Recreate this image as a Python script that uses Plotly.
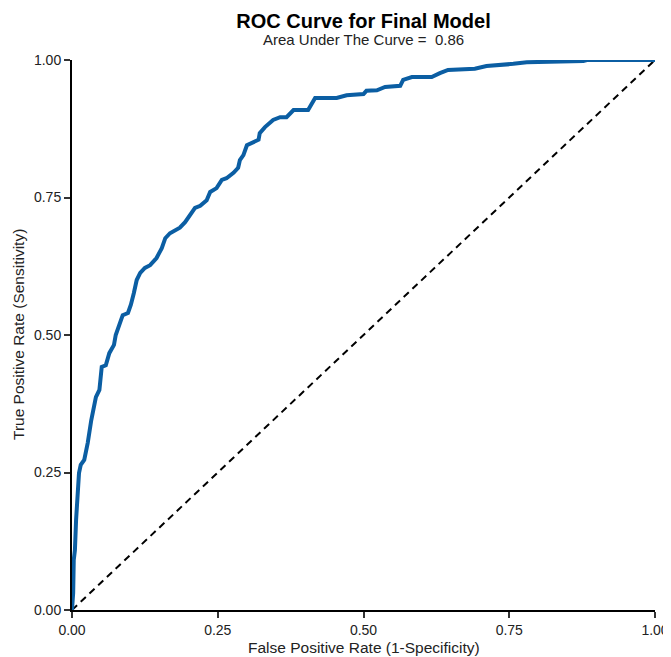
import plotly.graph_objects as go

fpr = [0.000, 0.002, 0.003, 0.005, 0.007, 0.010, 0.012, 0.015, 0.021, 0.027,
       0.033, 0.041, 0.047, 0.051, 0.058, 0.064, 0.072, 0.075, 0.084, 0.087,
       0.096, 0.101, 0.106, 0.111, 0.117, 0.125, 0.134, 0.145, 0.154, 0.160,
       0.168, 0.177, 0.185, 0.194, 0.202, 0.211, 0.220, 0.231, 0.237, 0.248,
       0.257, 0.265, 0.277, 0.285, 0.288, 0.294, 0.300, 0.308, 0.320, 0.322,
       0.331, 0.345, 0.357, 0.368, 0.380, 0.405, 0.417, 0.454, 0.471, 0.500,
       0.505, 0.523, 0.537, 0.563, 0.568, 0.583, 0.617, 0.631, 0.645, 0.691,
       0.711, 0.757, 0.780, 0.877, 0.883, 1.000]
tpr = [0.000, 0.031, 0.091, 0.109, 0.164, 0.213, 0.249, 0.264, 0.273, 0.304,
       0.345, 0.387, 0.400, 0.442, 0.445, 0.467, 0.482, 0.500, 0.531, 0.536,
       0.540, 0.555, 0.576, 0.600, 0.613, 0.622, 0.627, 0.640, 0.658, 0.676,
       0.685, 0.691, 0.695, 0.705, 0.718, 0.731, 0.735, 0.745, 0.760, 0.767,
       0.782, 0.785, 0.795, 0.804, 0.818, 0.827, 0.845, 0.849, 0.855, 0.867,
       0.878, 0.891, 0.896, 0.896, 0.909, 0.909, 0.931, 0.931, 0.936, 0.938,
       0.944, 0.945, 0.951, 0.953, 0.964, 0.969, 0.969, 0.976, 0.982, 0.984,
       0.989, 0.993, 0.996, 0.998, 1.000, 1.000]
ref_line = [0.0, 1.0]
tick_vals = [0.0, 0.25, 0.5, 0.75, 1.0]
tick_text = ["0.00", "0.25", "0.50", "0.75", "1.00"]
auc_value = 0.86

fig = go.Figure()
fig.add_trace(go.Scatter(x=ref_line, y=ref_line, mode="lines",
                         line=dict(color="black", width=2, dash="7px,5px"),
                         cliponaxis=False, hoverinfo="skip"))
fig.add_trace(go.Scatter(x=fpr, y=tpr, mode="lines",
                         line=dict(color="#0b5ea3", width=4),
                         cliponaxis=False))

font = "Liberation Sans, Arial, sans-serif"
axis_common = dict(range=[0, 1], tickvals=tick_vals, ticktext=tick_text,
                   showgrid=False, zeroline=False, showline=True,
                   linecolor="black", linewidth=2, ticks="outside",
                   ticklen=6, tickwidth=1.5, tickcolor="#333333",
                   tickfont=dict(family=font, size=14, color="#222222"),
                   automargin=False, fixedrange=True)

# page body has an 8px margin, so the figure is sized/offset to compensate
W, H = 663, 649
fig.update_layout(
    width=W, height=H,
    margin=dict(l=64, r=16, t=52, b=47),
    plot_bgcolor="white", paper_bgcolor="white",
    showlegend=False,
    title=dict(text="<b>ROC Curve for Final Model</b>", x=0.5, xref="paper",
               y=1 - 13 / H, yref="container", yanchor="middle", xanchor="center",
               font=dict(family=font, size=20, color="black")),
    xaxis=dict(**axis_common),
    yaxis=dict(**axis_common),
    annotations=[
        dict(text=f"Area Under The Curve =  {auc_value}", x=0.5, xref="paper",
             y=(550 + 20) / 550, yref="paper", yanchor="middle", xanchor="center",
             showarrow=False, font=dict(family=font, size=15, color="#222222")),
        dict(text="False Positive Rate (1-Specificity)", x=0.5, xref="paper",
             y=-37 / 550, yref="paper", yanchor="middle", xanchor="center",
             showarrow=False, font=dict(family=font, size=15.5, color="#222222")),
        dict(text="True Positive Rate (Sensitivity)", x=-54 / 583, xref="paper",
             y=0.5, yref="paper", yanchor="middle", xanchor="center", textangle=-90,
             showarrow=False, font=dict(family=font, size=15.5, color="#222222")),
    ],
)

fig.write_html("out.html")
